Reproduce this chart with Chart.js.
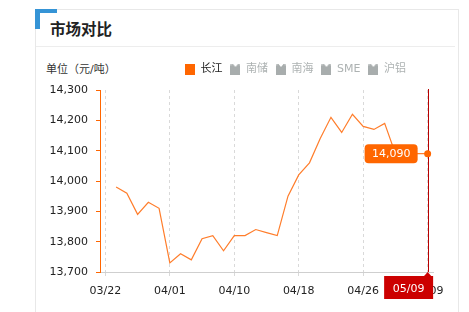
<!DOCTYPE html>
<html lang="zh">
<head>
<meta charset="utf-8">
<title>市场对比</title>
<script src="https://cdn.jsdelivr.net/npm/chart.js@4.4.1/dist/chart.umd.min.js"></script>
<style>
  html, body { margin: 0; padding: 0; background: #fff; }
  body { width: 469px; height: 312px; overflow: hidden; position: relative;
         font-family: 'DejaVu Sans', 'Noto Sans CJK SC', sans-serif; }
  .card { position: absolute; left: 35px; top: 9px; width: 424px; height: 330px;
          border: 1px solid #e8e8e8; box-sizing: border-box; }
  .corner-h { position: absolute; left: 35px; top: 9px; width: 22px; height: 4px; background: #3594d6; }
  .corner-v { position: absolute; left: 35px; top: 9px; width: 5px; height: 20px; background: #3594d6; }
  .title { position: absolute; left: 50px; top: 17px; line-height: 20px;
           font: bold 15.5px 'Noto Sans CJK SC', sans-serif; color: #222; }
  .rule { position: absolute; left: 36px; top: 46px; width: 419px; height: 1px; background: #ededed; }
  .unit { position: absolute; left: 46px; top: 60px; line-height: 16px;
          font: 11px 'DejaVu Sans', 'Noto Sans CJK SC', sans-serif; color: #333; }
  #chart { position: absolute; left: 0; top: 0; }
</style>
</head>
<body>
<div class="card"></div>
<div class="corner-h"></div>
<div class="corner-v"></div>
<div class="title">市场对比</div>
<div class="rule"></div>
<div class="unit">单位（元/吨）</div>
<canvas id="chart" width="469" height="312"></canvas>
<script>
// Trading days shown on the x axis (one entry per point)
const dates = [
  '03/22', '03/25', '03/26', '03/27', '03/28', '03/29',
  '04/01', '04/02', '04/03', '04/04', '04/08', '04/09',
  '04/10', '04/11', '04/12', '04/15', '04/16', '04/17',
  '04/18', '04/19', '04/22', '04/23', '04/24', '04/25',
  '04/26', '04/29', '04/30', '05/06', '05/07', '05/08',
  '05/09'
];

// 长江 spot price, 元/吨
const changjiang = [
  null, 13980, 13960, 13890, 13930, 13910,
  13730, 13760, 13740, 13810, 13820, 13770,
  13820, 13820, 13840, 13830, 13820, 13950,
  14020, 14060, 14140, 14210, 14160, 14220,
  14180, 14170, 14190, 14090, 14090, 14090,
  14090
];

// Legend entries; only the first market is switched on
const seriesNames = ['长江', '南储', '南海', 'SME', '沪铝'];
const seriesOn = [true, false, false, false, false];

// Dates that get an axis label
const labelledDates = ['03/22', '04/01', '04/10', '04/18', '04/26', '05/09'];

// Price axis range
const yMin = 13700;
const yMax = 14300;
const yStep = 100;

const ORANGE = '#ff6600';
const LINE = '#ff7d2b';
const OFF_GREY = '#a8adad';
const OFF_TEXT = '#adb2b2';
const CROSS_RED = '#b80000';
const LABEL_RED = '#cc0000';

const focusIndex = dates.length - 1;
const nf = new Intl.NumberFormat('en-US');

// Small legend swatches: plain square for active series, notched square for inactive ones
function swatch(color, notched) {
  const c = document.createElement('canvas');
  c.width = 10; c.height = 11;
  const g = c.getContext('2d');
  g.fillStyle = color;
  g.fillRect(0, 0, 10, 11);
  if (notched) {
    g.fillStyle = '#ffffff';
    g.beginPath();
    g.moveTo(2.5, 0); g.lineTo(7.5, 0); g.lineTo(5, 3); g.closePath();
    g.fill();
    g.fillStyle = '#c9cdcd';
    g.fillRect(0, 0, 1.5, 1.5);
    g.fillRect(8.5, 0, 1.5, 1.5);
  }
  return c;
}
const swatches = seriesNames.map((n, i) => seriesOn[i] ? swatch(ORANGE, false) : swatch(OFF_GREY, true));

function roundRectPath(ctx, x, y, w, h, r) {
  ctx.beginPath();
  ctx.moveTo(x + r, y);
  ctx.lineTo(x + w - r, y);
  ctx.quadraticCurveTo(x + w, y, x + w, y + r);
  ctx.lineTo(x + w, y + h - r);
  ctx.quadraticCurveTo(x + w, y + h, x + w - r, y + h);
  ctx.lineTo(x + r, y + h);
  ctx.quadraticCurveTo(x, y + h, x, y + h - r);
  ctx.lineTo(x, y + r);
  ctx.quadraticCurveTo(x, y, x + r, y);
  ctx.closePath();
}

// Crosshair, value flag and date flag for the focused day
const focusPlugin = {
  id: 'focus',
  beforeDatasetsDraw(chart) {
    const { ctx, chartArea, scales } = chart;
    const px = Math.round(scales.x.getPixelForValue(focusIndex)) + 0.5;
    ctx.save();
    ctx.strokeStyle = CROSS_RED;
    ctx.lineWidth = 1;
    ctx.beginPath();
    ctx.moveTo(px, chartArea.top - 1);
    ctx.lineTo(px, chartArea.bottom);
    ctx.stroke();
    ctx.restore();
  },
  afterDatasetsDraw(chart) {
    const { ctx, chartArea, scales } = chart;
    const value = changjiang[focusIndex];
    const px = scales.x.getPixelForValue(focusIndex);
    const py = scales.y.getPixelForValue(value);
    ctx.save();
    ctx.font = '11px "DejaVu Sans", sans-serif';
    ctx.textAlign = 'center';
    ctx.textBaseline = 'middle';

    // value flag to the left of the point
    const bw = 53, bh = 19;
    const bx = px - 10 - bw, by = py - bh / 2;
    roundRectPath(ctx, bx, by, bw, bh, 4);
    ctx.fillStyle = ORANGE;
    ctx.fill();
    ctx.fillStyle = '#fff';
    ctx.fillText(nf.format(value), bx + bw / 2, py + 0.5);

    // date flag under the axis
    const top = chartArea.bottom + 4;
    const right = px + 5.5, left = px - 43.5;
    ctx.fillStyle = LABEL_RED;
    ctx.fillRect(left, top, right - left, 23);
    ctx.beginPath();
    ctx.moveTo(px - 4, top + 0.5);
    ctx.lineTo(px, chartArea.bottom);
    ctx.lineTo(px + 4, top + 0.5);
    ctx.closePath();
    ctx.fill();
    ctx.fillStyle = '#fff';
    ctx.fillText(dates[focusIndex], (left + right) / 2, top + 13.5);
    ctx.restore();
  },
  afterLayout(chart) {
    // place the legend row beside the unit caption
    const lg = chart.legend;
    const pad = lg.options.labels.padding;
    lg.left = 185 - pad;
    lg.right = lg.left + 400;
    lg.top = 64 - pad;
  }
};

Chart.defaults.font.family = "'DejaVu Sans', 'Noto Sans CJK SC', sans-serif";
Chart.defaults.font.size = 11;
Chart.defaults.color = '#222';

const datasets = seriesNames.map((name, i) => {
  if (i === 0) {
    return {
      label: name,
      data: changjiang.map((v, k) => ({ x: k, y: v })),
      borderColor: LINE,
      borderWidth: 1.2,
      tension: 0,
      spanGaps: false,
      pointRadius: c => c.dataIndex === focusIndex ? 3.5 : 0,
      pointHoverRadius: 0,
      pointBackgroundColor: ORANGE,
      pointBorderWidth: 0
    };
  }
  return { label: name, data: [], hidden: !seriesOn[i], borderColor: OFF_GREY };
});

new Chart(document.getElementById('chart'), {
  type: 'line',
  data: { datasets },
  plugins: [focusPlugin],
  options: {
    responsive: false,
    animation: false,
    locale: 'en-US',
    events: [],
    layout: { padding: { left: 40, right: 36, top: 61, bottom: 0 } },
    plugins: {
      tooltip: { enabled: false },
      legend: {
        position: 'top',
        align: 'start',
        labels: {
          usePointStyle: true,
          pointStyleWidth: 10,
          boxHeight: 11,
          padding: 8,
          font: { size: 11 },
          generateLabels: chart => chart.data.datasets.map((ds, i) => ({
            text: ds.label,
            fillStyle: seriesOn[i] ? ORANGE : OFF_GREY,
            strokeStyle: 'transparent',
            lineWidth: 0,
            hidden: false,
            pointStyle: swatches[i],
            fontColor: seriesOn[i] ? '#222' : OFF_TEXT,
            datasetIndex: i
          }))
        }
      }
    },
    scales: {
      x: {
        type: 'linear',
        min: -0.5,
        max: dates.length - 0.5,
        afterBuildTicks: s => { s.ticks = labelledDates.map(d => ({ value: dates.indexOf(d) })); },
        afterFit: s => { s.height = 40; },
        ticks: { callback: v => dates[v], color: '#222', padding: 8, maxRotation: 0, autoSkip: false },
        grid: { color: '#d9d9d9', tickColor: '#d9d9d9', tickLength: 5, tickBorderDash: [3, 3] },
        border: { color: '#cfcfcf', dash: [3, 3] }
      },
      y: {
        type: 'linear',
        min: yMin,
        max: yMax,
        afterFit: s => { s.width = 60; },
        ticks: { stepSize: yStep, color: '#222', padding: 8 },
        grid: { drawOnChartArea: false, color: ORANGE, tickColor: ORANGE, tickLength: 4 },
        border: { color: ORANGE, width: 1 }
      }
    }
  }
});
</script>
</body>
</html>
